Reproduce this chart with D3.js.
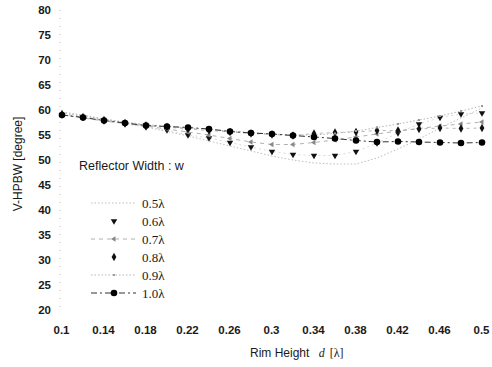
<!DOCTYPE html>
<html>
<head>
<meta charset="utf-8">
<script src="https://cdn.jsdelivr.net/npm/d3@7"></script>
<style>
  body { margin: 0; background: #fff; }
  svg { display: block; }
  .tick text { font-family: "Liberation Sans", Arial, sans-serif; font-size: 11.5px; font-weight: bold; fill: #1a1a1a; }
</style>
</head>
<body>
<div id="chart"></div>
<script>
// Rim height d [λ]
const rimHeight = [0.1, 0.12, 0.14, 0.16, 0.18, 0.2, 0.22, 0.24, 0.26, 0.28, 0.3,
                   0.32, 0.34, 0.36, 0.38, 0.4, 0.42, 0.44, 0.46, 0.48, 0.5];
const xTicks = [0.1, 0.14, 0.18, 0.22, 0.26, 0.3, 0.34, 0.38, 0.42, 0.46, 0.5];
const yTicks = [20, 25, 30, 35, 40, 45, 50, 55, 60, 65, 70, 75, 80];

// V-HPBW [degree] for each reflector width
const w05 = [59.6, 59.0, 58.2, 57.4, 56.6, 55.7, 54.8, 53.8, 52.8, 51.8, 50.8,
             50.0, 49.4, 49.2, 49.2, 50.4, 52.2, 54.2, 56.4, 58.4, 60.4];
const w06 = [59.0, 58.5, 57.8, 57.2, 56.6, 56.0, 55.0, 54.4, 53.5, 52.6, 51.7,
             51.1, 50.9, 50.9, 51.7, 53.4, 55.4, 57.2, 58.5, 59.2, 59.4];
const w07 = [59.0, 58.4, 57.8, 57.3, 56.8, 56.2, 55.6, 55.0, 54.3, 53.6, 53.1,
             53.1, 53.5, 54.0, 54.6, 55.2, 55.8, 56.3, 56.8, 57.2, 57.6];
const w08 = [59.2, 58.6, 58.0, 57.4, 56.9, 56.6, 56.2, 55.9, 55.6, 55.3, 55.1,
             54.9, 55.3, 55.5, 55.6, 55.9, 55.9, 56.2, 56.4, 56.3, 56.4];
const w09 = [59.4, 58.8, 58.2, 57.6, 57.1, 56.7, 56.4, 56.1, 55.8, 55.5, 55.2,
             55.0, 55.0, 55.3, 55.8, 56.5, 57.2, 58.0, 58.8, 59.8, 60.8];
const w10 = [59.0, 58.5, 57.9, 57.4, 56.9, 56.7, 56.5, 56.2, 55.7, 55.4, 55.2,
             54.9, 54.6, 54.3, 53.9, 53.6, 53.7, 53.6, 53.5, 53.4, 53.5];

const seriesNames = ["0.5λ", "0.6λ", "0.7λ", "0.8λ", "0.9λ", "1.0λ"];
const seriesValues = [w05, w06, w07, w08, w09, w10];

const W = 492, H = 367;
const svg = d3.select("#chart").append("svg").attr("width", W).attr("height", H);

const x = d3.scaleLinear().domain([0.1, 0.5]).range([62, 482]);
const y = d3.scaleLinear().domain([20, 80]).range([310, 10]);

// styles per series (legendLine false = marker only in the key)
const styles = [
  {stroke: "#bdbdbd", dash: "1.5,2", width: 1, marker: null, legendLine: true},
  {stroke: "#d0d0d0", dash: "2,3", width: 0.8, marker: d3.symbolTriangle, rot: 180, size: 18, fill: "#111", legendLine: false},
  {stroke: "#a8a8a8", dash: "4,4", width: 0.9, marker: d3.symbolTriangle, rot: 270, size: 12, fill: "#888", legendLine: true},
  {stroke: "#999", dash: "3,4", width: 0.7, marker: d3.symbolDiamond, rot: 0, size: 20, fill: "#111", legendLine: false},
  {stroke: "#b5b5b5", dash: "1.5,2", width: 1, marker: d3.symbolSquare, rot: 0, size: 4, fill: "#999", legendLine: true},
  {stroke: "#333", dash: "6,3,2,3", width: 1, marker: d3.symbolCircle, rot: 0, size: 34, fill: "#000", legendLine: true}
];

// faint dotted left axis
svg.append("line")
  .attr("x1", x(0.1) - 2).attr("x2", x(0.1) - 2)
  .attr("y1", y(80)).attr("y2", y(20))
  .attr("stroke", "#bbb").attr("stroke-width", 1).attr("stroke-dasharray", "1,7");

const yAxis = svg.append("g")
  .attr("transform", "translate(51,0)")
  .call(d3.axisLeft(y).tickValues(yTicks).tickSize(0).tickPadding(0).tickFormat(d3.format("d")));
yAxis.select(".domain").remove();

const xAxis = svg.append("g")
  .attr("transform", "translate(0,326)")
  .call(d3.axisBottom(x).tickValues(xTicks).tickSize(0).tickPadding(0).tickFormat(d => String(d)));
xAxis.select(".domain").remove();
xAxis.selectAll(".tick text").attr("dy", "0.71em").attr("x", -1);

// axis titles
svg.append("text")
  .attr("transform", "translate(22,164) rotate(-90)")
  .attr("text-anchor", "middle")
  .style("font-family", "Liberation Sans, Arial, sans-serif")
  .style("font-size", "12px").style("fill", "#1a1a1a")
  .text("V-HPBW [degree]");

const xl = svg.append("text")
  .attr("x", 250).attr("y", 357)
  .style("font-family", "Liberation Sans, Arial, sans-serif")
  .style("font-size", "12px").style("fill", "#1a1a1a");
xl.append("tspan").text("Rim Height ");
xl.append("tspan").attr("dx", 6)
  .style("font-family", "Liberation Serif, Times New Roman, serif").style("font-style", "italic").text("d");
xl.append("tspan").attr("dx", 5)
  .style("font-family", "Liberation Serif, Times New Roman, serif").text("[λ]");

// lines and markers
const line = d3.line().x((d, i) => x(rimHeight[i])).y(d => y(d));

seriesValues.forEach((vals, k) => {
  const s = styles[k];
  svg.append("path")
    .datum(vals)
    .attr("d", line)
    .attr("fill", "none")
    .attr("stroke", s.stroke)
    .attr("stroke-width", s.width)
    .attr("stroke-dasharray", s.dash);
  if (s.marker) {
    svg.append("g").selectAll("path")
      .data(vals)
      .join("path")
      .attr("d", d3.symbol().type(s.marker).size(s.size))
      .attr("transform", (d, i) => `translate(${x(rimHeight[i])},${y(d)}) rotate(${s.rot})`)
      .attr("fill", s.fill);
  }
});

// legend
svg.append("text")
  .attr("x", 79).attr("y", 170)
  .style("font-family", "Liberation Sans, Arial, sans-serif")
  .style("font-size", "12.5px").style("fill", "#1a1a1a")
  .text("Reflector Width : w");

const leg = svg.append("g");
seriesNames.forEach((name, k) => {
  const s = styles[k];
  const ly = 203 + k * 18;
  const g = leg.append("g").attr("transform", `translate(0,${ly})`);
  if (s.legendLine) {
    g.append("line")
      .attr("x1", 91).attr("x2", 136).attr("y1", 0).attr("y2", 0)
      .attr("stroke", s.stroke).attr("stroke-width", s.width)
      .attr("stroke-dasharray", s.dash);
  }
  if (s.marker) {
    g.append("path")
      .attr("d", d3.symbol().type(s.marker).size(s.size))
      .attr("transform", `translate(114,0) rotate(${s.rot})`)
      .attr("fill", s.fill);
  }
  g.append("text")
    .attr("x", 142).attr("y", 4.5)
    .style("font-family", "Liberation Serif, Times New Roman, serif")
    .style("font-size", "13px").style("fill", "#1a1a1a")
    .text(name);
});
</script>
</body>
</html>
